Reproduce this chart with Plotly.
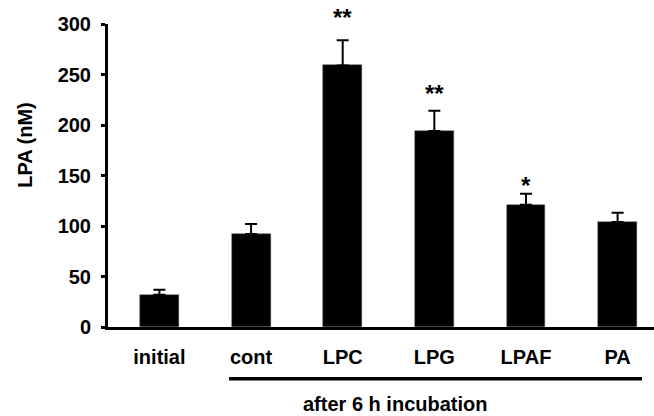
import plotly.graph_objects as go

categories = ["initial", "cont", "LPC", "LPG", "LPAF", "PA"]
values = [32, 92, 259, 194, 121, 104]
errors = [5, 10, 25, 20, 11, 9]
stars = ["", "", "**", "**", "*", ""]
star_levels = [None, None, 306, 231, 140, None]
y_ticks = [0, 50, 100, 150, 200, 250, 300]
group_label = "after 6 h incubation"
y_title = "LPA (nM)"

FONT = "Liberation Sans, Arial, Helvetica, sans-serif"
YMAX = 300
xpos = list(range(len(categories)))

fig = go.Figure()
fig.add_trace(go.Bar(
    x=xpos, y=values, width=0.425,
    marker=dict(color="black", line=dict(color="#555555", width=0.5)),
    error_y=dict(type="data", symmetric=False, array=errors,
                 arrayminus=[0] * len(errors), color="black",
                 thickness=2, width=6),
    cliponaxis=False,
))

for i, (s, lvl) in enumerate(zip(stars, star_levels)):
    if s:
        fig.add_annotation(x=i, xref="x", y=lvl / YMAX, yref="paper",
                           text="<b>%s</b>" % s,
                           showarrow=False,
                           font=dict(family=FONT, size=24, color="black"),
                           xanchor="center", yanchor="middle")

# group bracket
fig.add_shape(type="line", xref="x", yref="paper",
              x0=0.76, x1=5.266, y0=-0.171, y1=-0.171,
              line=dict(color="black", width=3.5))
fig.add_annotation(x=2.57, xref="x", y=-0.255, yref="paper",
                   text="<b>%s</b>" % group_label, showarrow=False,
                   font=dict(family=FONT, size=20, color="black"),
                   xanchor="center", yanchor="middle")
fig.add_annotation(x=-0.151, xref="paper", y=0.6, yref="paper",
                   text="<b>%s</b>" % y_title, showarrow=False, textangle=-90,
                   font=dict(family=FONT, size=20, color="black"),
                   xanchor="center", yanchor="middle")

fig.update_layout(
    width=654, height=416,
    margin=dict(l=108, r=0, t=24, b=89, autoexpand=False),
    paper_bgcolor="white", plot_bgcolor="white",
    showlegend=False,
    font=dict(family=FONT, color="black"),
    bargap=0,
)
fig.update_xaxes(
    range=[-0.561, 5.397], tickvals=xpos,
    ticktext=["<b>%s</b>" % c for c in categories],
    tickfont=dict(family=FONT, size=20, color="black"),
    showline=True, linecolor="black", linewidth=3,
    ticks="", showgrid=False, zeroline=False,
    ticklabelstandoff=10, automargin=False,
)
fig.update_yaxes(
    range=[0, YMAX], tickvals=y_ticks,
    ticktext=["<b>%d</b>" % t for t in y_ticks],
    tickfont=dict(family=FONT, size=20, color="black"),
    showline=True, linecolor="black", linewidth=3,
    ticks="outside", ticklen=4, tickwidth=3, tickcolor="black",
    showgrid=False, zeroline=False,
    ticklabelstandoff=6, automargin=False,
)

fig.write_html("out.html", config={"displayModeBar": False},
               post_script="document.body.style.margin='0';document.body.style.overflow='hidden';")
